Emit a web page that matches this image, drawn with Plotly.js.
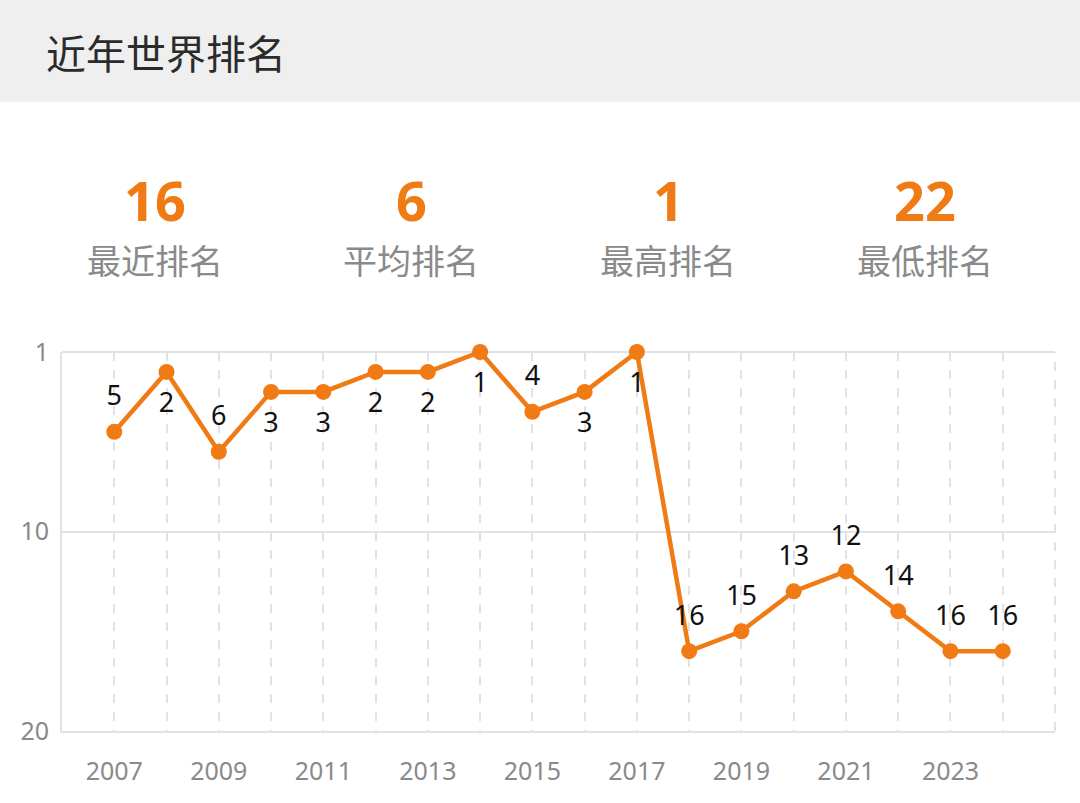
<!DOCTYPE html>
<html>
<head>
<meta charset="utf-8">
<script src="https://cdn.plot.ly/plotly-3.0.1.min.js"></script>
<style>
  html, body { margin: 0; padding: 0; background: #ffffff; }
  #chart { width: 1080px; height: 803px; }
</style>
</head>
<body>
<div id="chart"></div>
<script>
const years = [2007, 2008, 2009, 2010, 2011, 2012, 2013, 2014, 2015, 2016, 2017, 2018, 2019, 2020, 2021, 2022, 2023, 2024];
const ranks = [5, 2, 6, 3, 3, 2, 2, 1, 4, 3, 1, 16, 15, 13, 12, 14, 16, 16];
const labelPos = ['top center', 'bottom center', 'top center', 'bottom center', 'bottom center', 'bottom center', 'bottom center', 'bottom center', 'top center', 'bottom center', 'bottom center', 'top center', 'top center', 'top center', 'top center', 'top center', 'top center', 'top center'];
const statValues = ['16', '6', '1', '22'];
const statLabels = ['最近排名', '平均排名', '最高排名', '最低排名'];
const headerTitle = '近年世界排名';
const yTicks = [1, 10, 20];
const xGridYears = [2006, 2007, 2008, 2009, 2010, 2011, 2012, 2013, 2014, 2015, 2016, 2017, 2018, 2019, 2020, 2021, 2022, 2023, 2024, 2025];
const xTickText = xGridYears.map(y => (y % 2 === 1 && y !== 2025) ? String(y) : '');

const W = 1080, H = 803;
const mL = 62, mR = 25, mT = 352, mB = 72;
const pw = W - mL - mR, ph = H - mT - mB;
const px = X => (X - mL) / pw;
const py = Y => (H - mB - Y) / ph;

const orange = '#F07A14';
const gridCol = '#e2e2e6';
const statX = [155, 411, 668, 925];

const annotations = [];
annotations.push({
  text: headerTitle, xref: 'paper', yref: 'paper', x: px(44), y: py(52),
  xanchor: 'left', yanchor: 'middle', showarrow: false,
  font: {family: 'Noto Sans CJK SC', size: 40, color: '#2b2b2b'}
});
statValues.forEach((v, i) => {
  annotations.push({
    text: '<b>' + v + '</b>', xref: 'paper', yref: 'paper', x: px(statX[i]), y: py(200),
    xanchor: 'center', yanchor: 'middle', showarrow: false,
    font: {family: 'Noto Sans, Roboto, sans-serif', size: 54, color: orange}
  });
  annotations.push({
    text: statLabels[i], xref: 'paper', yref: 'paper', x: px(statX[i]), y: py(259),
    xanchor: 'center', yanchor: 'middle', showarrow: false,
    font: {family: 'Noto Sans CJK SC', size: 34, color: '#8a8a8a'}
  });
});

const layout = {
  width: W, height: H,
  margin: {l: mL, r: mR, t: mT, b: mB, pad: 0},
  paper_bgcolor: '#ffffff', plot_bgcolor: '#ffffff',
  showlegend: false,
  shapes: [
    {type: 'rect', xref: 'paper', yref: 'paper', layer: 'below',
     x0: px(0), x1: px(W), y0: py(102), y1: py(0),
     fillcolor: '#efefef', line: {width: 0}},
    {type: 'line', xref: 'paper', yref: 'paper', layer: 'below',
     x0: 0, x1: 1, y0: 1, y1: 1, line: {color: gridCol, width: 2}},
    {type: 'line', xref: 'paper', yref: 'paper', layer: 'below',
     x0: 1, x1: 1, y0: 0, y1: 1, line: {color: gridCol, width: 2, dash: 'dash'}}
  ],
  annotations: annotations,
  xaxis: {
    range: [2006, 2025], tickmode: 'array', tickvals: xGridYears, ticktext: xTickText,
    showgrid: true, gridcolor: gridCol, griddash: 'dash', gridwidth: 2,
    showline: true, linecolor: gridCol, linewidth: 2,
    zeroline: false, ticks: '', ticklabelstandoff: 17,
    tickfont: {family: 'Noto Sans, Roboto, sans-serif', size: 25, color: '#8a8a8a'},
    fixedrange: true
  },
  yaxis: {
    range: [20, 1], tickmode: 'array', tickvals: yTicks, ticktext: yTicks.map(String),
    showgrid: true, gridcolor: gridCol, gridwidth: 2,
    showline: true, linecolor: gridCol, linewidth: 2,
    zeroline: false, ticks: '', ticklabelstandoff: 6,
    tickfont: {family: 'Noto Sans, Roboto, sans-serif', size: 25, color: '#8a8a8a'},
    fixedrange: true
  }
};

const lineTrace = {
  type: 'scatter', mode: 'lines+markers',
  x: years, y: ranks,
  line: {color: orange, width: 4.5},
  marker: {color: orange, size: 16},
  cliponaxis: false, hoverinfo: 'skip'
};
const labelTrace = {
  type: 'scatter', mode: 'markers+text',
  x: years, y: ranks, text: ranks.map(String), textposition: labelPos,
  textfont: {family: 'Noto Sans, Roboto, sans-serif', size: 27, color: '#111111'},
  marker: {color: 'rgba(0,0,0,0)', size: 30},
  cliponaxis: false, hoverinfo: 'skip'
};

Plotly.newPlot('chart', [lineTrace, labelTrace], layout, {displayModeBar: false, staticPlot: true});
</script>
</body>
</html>
